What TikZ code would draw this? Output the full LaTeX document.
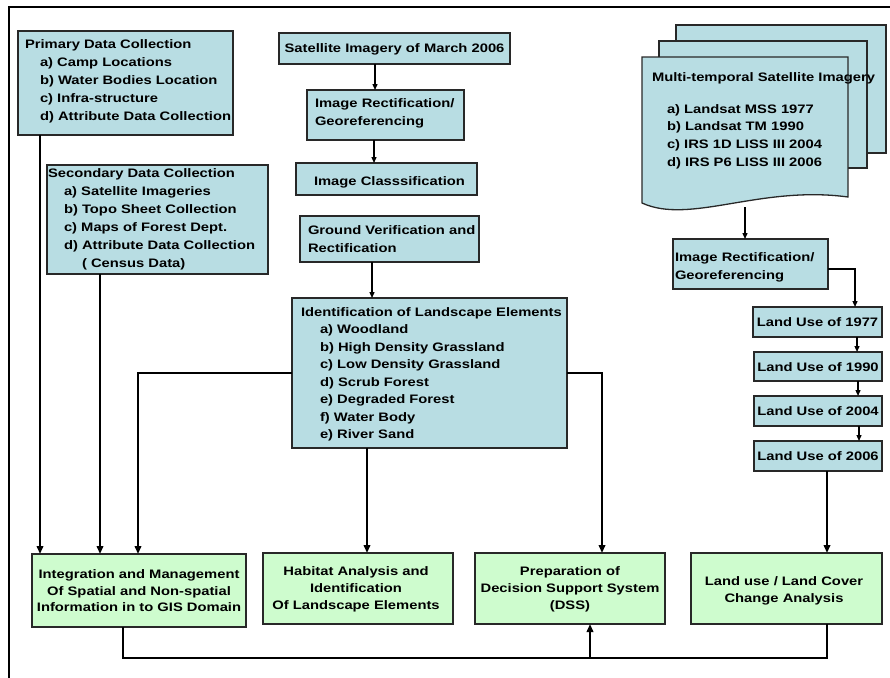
\documentclass[tikz,border=0pt]{standalone}
\usepackage{fontspec}
\newfontfamily\pf{Liberation Sans}[FakeStretch=1.2]
\usetikzlibrary{arrows.meta,calc}
\definecolor{bluebox}{RGB}{184,221,227}
\definecolor{greenbox}{RGB}{206,252,206}
\definecolor{edge}{RGB}{40,40,40}
\tikzset{
 bbox/.style={draw=edge, line width=1.3pt, fill=bluebox, inner sep=0pt, outer sep=0pt, anchor=north west},
 gbox/.style={bbox, fill=greenbox},
 txt/.style={inner sep=0pt, outer sep=0pt, anchor=north west, align=left, font=\pf\bfseries\fontsize{12.3}{18}\selectfont},
 ctx/.style={inner sep=0pt, outer sep=0pt, font=\pf\bfseries\fontsize{12.3}{18}\selectfont},
 gtxt/.style={inner sep=0pt, outer sep=0pt, anchor=north, align=center, font=\pf\bfseries\fontsize{12.3}{17}\selectfont},
 sarr/.style={line width=1.3pt, -{Triangle[length=6pt,width=5pt]}},
 tarr/.style={line width=2.4pt, -{Triangle[length=8pt,width=6.5pt]}},
 tline/.style={line width=2.4pt},
 page/.style={draw=edge, line width=1.3pt, fill=bluebox},
}
\begin{document}
\begin{tikzpicture}[x=1pt,y=-1pt]
\useasboundingbox (0,0) rectangle (890,677);
\fill[white] (0,0) rectangle (890,677);
% frame
\draw[line width=2.7pt] (9,680) -- (9,7) -- (893,7);

% left column
\node[bbox, minimum width=215pt, minimum height=104pt] (prim) at (18,31) {};
\node[txt] (primT) at (25,35) {\rule{0pt}{13pt}Primary Data Collection\\
\hspace*{15pt}a) Camp Locations\\
\hspace*{15pt}b) Water Bodies Location\\
\hspace*{15pt}c) Infra-structure\\
\hspace*{15pt}d) Attribute Data Collection};

\node[bbox, minimum width=221pt, minimum height=109pt] (sec) at (47,165) {};
\node[txt] (secT) at (48,164.5) {\rule{0pt}{13pt}Secondary Data Collection\\
\hspace*{16pt}a) Satellite Imageries\\
\hspace*{16pt}b) Topo Sheet Collection\\
\hspace*{16pt}c) Maps of Forest Dept.\\
\hspace*{16pt}d) Attribute Data Collection\\
\hspace*{34pt}( Census Data)};

% middle column
\node[bbox, minimum width=231pt, minimum height=31pt] (sat) at (279,33) {};
\node[ctx, anchor=base] (satT) at (394.5,52.5) {Satellite Imagery of March 2006};

\node[bbox, minimum width=157pt, minimum height=50pt] (rect1) at (307,90) {};
\node[txt] (rect1T) at (315,94.5) {\rule{0pt}{13pt}Image Rectification/\\Georeferencing};

\node[bbox, minimum width=181pt, minimum height=32pt] (class) at (296,163) {};
\node[ctx, anchor=base west] (classT) at (314,185) {Image Classsification};

\node[bbox, minimum width=179pt, minimum height=46pt] (ground) at (300,216) {};
\node[txt] (groundT) at (308,221.5) {\rule{0pt}{13pt}Ground Verification and\\Rectification};

\node[bbox, minimum width=275pt, minimum height=150pt] (ident) at (292,298) {};
\node[txt, font=\pf\bfseries\fontsize{12.3}{17.5}\selectfont] (identT) at (301,303) {\rule{0pt}{13pt}Identification of Landscape Elements\\
\hspace*{19pt}a) Woodland\\
\hspace*{19pt}b) High Density Grassland\\
\hspace*{19pt}c) Low Density Grassland\\
\hspace*{19pt}d) Scrub Forest\\
\hspace*{19pt}e) Degraded Forest\\
\hspace*{19pt}f) Water Body\\
\hspace*{19pt}e) River Sand};

% right column: stacked documents
\path[page] (676,25) rectangle (886,153);
\path[page] (659,41) rectangle (867,168);
\path[page] (642,57) -- (848,57) -- (848,197) .. controls (760,185) and (690,225) .. (642,203) -- cycle;
\coordinate (docb) at (745,207);
\node[ctx, anchor=base west] (docT) at (652,81.5) {Multi-temporal Satellite Imagery};
\node[txt, font=\pf\bfseries\fontsize{12.3}{17.7}\selectfont] (docI) at (667,100) {\rule{0pt}{13pt}a) Landsat MSS 1977\\
b) Landsat TM 1990\\
c) IRS 1D LISS III 2004\\
d) IRS P6 LISS III 2006};

\node[bbox, minimum width=155pt, minimum height=50pt] (rect2) at (673,239) {};
\node[txt] (rect2T) at (675,248) {\rule{0pt}{13pt}Image Rectification/\\Georeferencing};

\node[bbox, minimum width=129pt, minimum height=30pt] (lu77) at (753,307) {};
\node[ctx, anchor=base] (lu77T) at (817.5,326.5) {Land Use of 1977};
\node[bbox, minimum width=128pt, minimum height=29pt] (lu90) at (754,352) {};
\node[ctx, anchor=base] (lu90T) at (818,371) {Land Use of 1990};
\node[bbox, minimum width=128pt, minimum height=30pt] (lu04) at (754,396) {};
\node[ctx, anchor=base] (lu04T) at (818,415.5) {Land Use of 2004};
\node[bbox, minimum width=128pt, minimum height=30pt] (lu06) at (754,441) {};
\node[ctx, anchor=base] (lu06T) at (818,460.5) {Land Use of 2006};

% bottom row
\node[gbox, minimum width=214pt, minimum height=73pt] (integ) at (32,554) {};
\node[gtxt, font=\pf\bfseries\fontsize{12.3}{16.5}\selectfont] (integT) at (139,565.5) {\rule{0pt}{13pt}Integration and Management\\Of Spatial and Non-spatial\\Information in to GIS Domain};
\node[gbox, minimum width=190pt, minimum height=71pt] (habitat) at (263,553) {};
\node[gtxt] (habitatT) at (356,562.5) {\rule{0pt}{13pt}Habitat Analysis and\\Identification\\Of Landscape Elements};
\node[gbox, minimum width=190pt, minimum height=71pt] (dss) at (475,553) {};
\node[gtxt] (dssT) at (570,562.5) {\rule{0pt}{13pt}Preparation of\\Decision Support System\\(DSS)};
\node[gbox, minimum width=191pt, minimum height=71pt] (lulc) at (691,553) {};
\node[gtxt] (lulcT) at (784,572.5) {\rule{0pt}{13pt}Land use / Land Cover\\Change Analysis};

% connectors
\draw[tarr] (40,0 |- prim.south) -- (40,0 |- integ.north);
\draw[tarr] (100,0 |- sec.south) -- (100,0 |- integ.north);
\draw[tarr] (ident.west |- 0,373) -| (138,0 |- integ.north);
\draw[sarr] (375,0 |- sat.south) -- (375,0 |- rect1.north);
\draw[sarr] (374,0 |- rect1.south) -- (374,0 |- class.north);
\draw[sarr] (372,0 |- ground.south) -- (372,0 |- ident.north);
\draw[tarr] (367,0 |- ident.south) -- (367,0 |- habitat.north);
\draw[tarr] (ident.east |- 0,373) -| (602,0 |- dss.north);
\draw[sarr] (docb) -- (745,0 |- rect2.north);
\draw[sarr] (rect2.east |- 0,269) -| (855,0 |- lu77.north);
\draw[sarr] (857,0 |- lu77.south) -- (857,0 |- lu90.north);
\draw[sarr] (858,0 |- lu90.south) -- (858,0 |- lu04.north);
\draw[sarr] (859,0 |- lu04.south) -- (859,0 |- lu06.north);
\draw[tarr] (827,0 |- lu06.south) -- (827,0 |- lulc.north);
\coordinate (j) at (590,658);
\draw[tline] (123,0 |- integ.south) |- (j) -| (827,0 |- lulc.south);
\draw[tarr] (j) -- (590,0 |- dss.south);
\end{tikzpicture}
\end{document}
